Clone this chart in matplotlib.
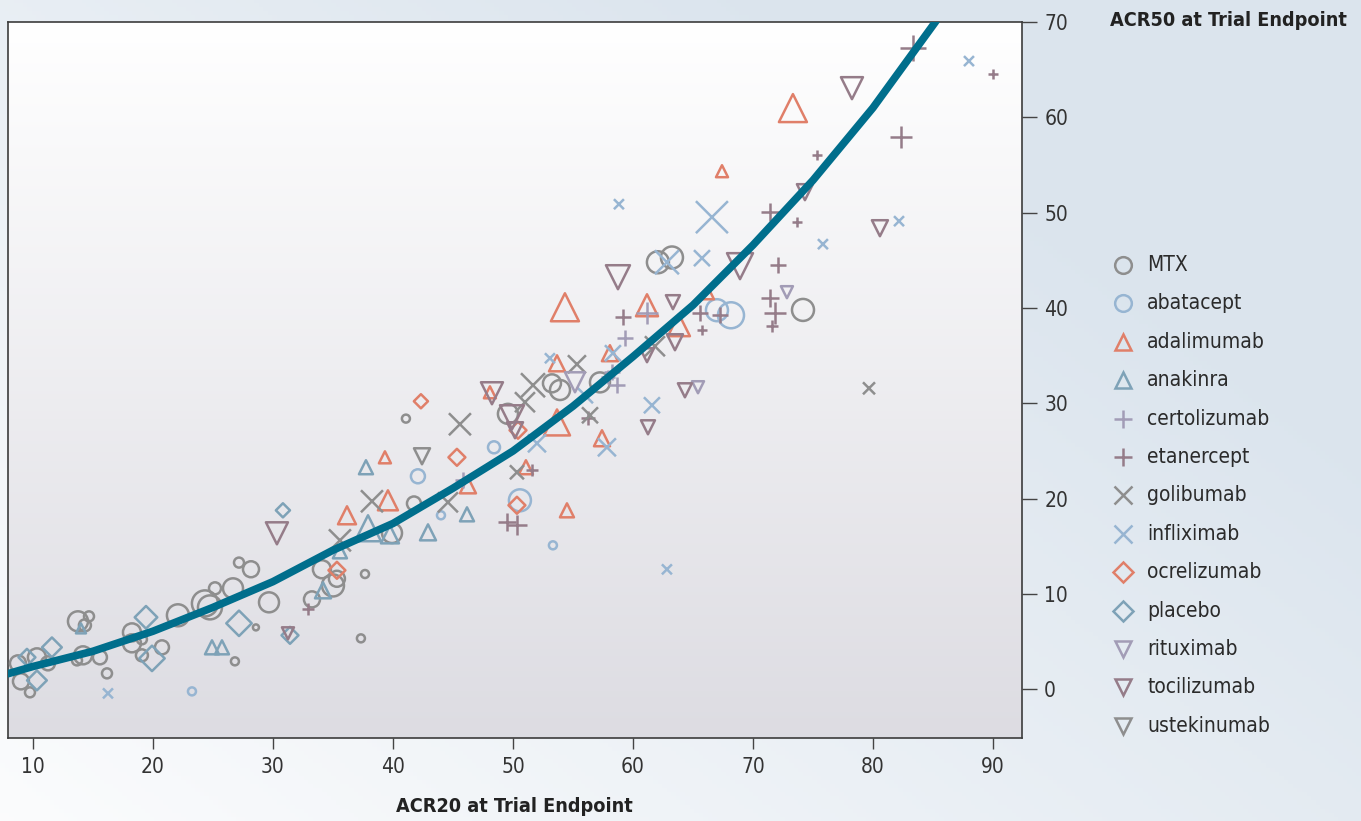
import numpy as np
import matplotlib
matplotlib.use("Agg")
import matplotlib.pyplot as plt
from matplotlib.lines import Line2D
from matplotlib import font_manager as fm

# ---------------- data (ACR20 %, ACR50 %, relative marker weight) ----------------
mtx_x = [8.75, 9.0, 9.75, 10.33, 11.25, 13.75, 14.67, 14.33, 14.17, 13.67, 15.58, 16.17, 18.25, 18.25,
         19.08, 20.75, 19.08, 22.08, 24.33, 24.75, 25.17, 26.67, 26.83, 27.17, 28.17, 29.67, 28.58,
         34.08, 35.0, 33.25, 35.33, 37.67, 37.33, 41.08, 41.75, 39.92, 49.58, 53.25, 53.92, 57.25,
         62.08, 63.25, 74.17]
mtx_y = [2.73, 0.84, -0.31, 3.36, 2.73, 7.14, 7.66, 6.72, 3.57, 3.04, 3.36, 1.68, 5.98, 4.83,
         3.57, 4.41, 5.25, 7.77, 9.02, 8.6, 10.6, 10.6, 2.94, 13.3, 12.6, 9.13, 6.5,
         12.6, 10.9, 9.44, 11.6, 12.1, 5.35, 28.4, 19.5, 16.4, 28.9, 32.1, 31.4, 32.2,
         44.8, 45.3, 39.8]
mtx_w = [8, 8, 5, 9, 7, 10, 5, 6, 9, 5, 7, 5, 9, 9,
         6, 7, 5, 11, 13, 12, 6, 10, 4, 5, 8, 10, 3,
         9, 11, 8, 8, 4, 4, 4, 7, 10, 10, 9, 10, 10,
         11, 11, 11]

abatacept_x = [23.25, 42.08, 44.0, 48.42, 50.58, 53.33, 67.0, 68.17]
abatacept_y = [-0.21, 22.35, 18.26, 25.39, 19.83, 15.11, 39.77, 39.24]
abatacept_w = [4, 7, 4, 6, 11, 4, 11, 13]

adalimumab_x = [73.33, 67.42, 54.33, 61.17, 63.83, 66.25, 58.08, 53.67, 53.67, 57.42, 54.5, 51.08,
                46.25, 48.08, 39.33, 39.58, 36.17]
adalimumab_y = [60.97, 54.35, 40.08, 40.29, 38.2, 41.55, 35.26, 34.2, 28.0, 26.34, 18.78, 23.3,
                21.4, 31.16, 24.34, 19.83, 18.26]
adalimumab_w = [14, 6, 14, 11, 11, 6, 8, 8, 13, 8, 7, 7, 8, 6, 6, 10, 9]

anakinra_x = [24.92, 25.75, 37.75, 37.92, 39.75, 42.92, 46.17, 35.58, 34.17, 14.0]
anakinra_y = [4.41, 4.41, 23.3, 16.9, 16.26, 16.47, 18.36, 14.48, 10.39, 6.4]
anakinra_w = [7, 7, 7, 13, 9, 8, 7, 7, 8, 5]

certolizumab_x = [45.83, 61.17, 59.33, 57.92, 58.25, 58.67]
certolizumab_y = [21.93, 39.45, 36.83, 32.74, 33.26, 31.9]
certolizumab_w = [8, 11, 8, 7, 8, 8]

etanercept_x = [83.33, 90.0, 75.33, 82.33, 71.42, 73.67, 72.08, 71.42, 71.83, 71.58, 65.58, 65.75,
                59.17, 67.25, 51.58, 49.5, 50.33, 32.92, 56.25]
etanercept_y = [67.26, 64.53, 56.03, 57.92, 50.05, 49.0, 44.49, 41.03, 39.45, 38.09, 39.45, 37.67,
                39.03, 39.24, 22.98, 17.52, 17.21, 8.39, 28.44]
etanercept_w = [13, 5, 5, 11, 9, 5, 8, 9, 11, 6, 8, 5, 8, 8, 6, 9, 10, 6, 7]

golibumab_x = [45.58, 38.25, 35.58, 44.58, 51.67, 51.0, 55.33, 56.42, 50.33, 79.67, 61.83]
golibumab_y = [27.81, 19.73, 15.63, 19.62, 31.9, 30.12, 34.1, 28.75, 22.77, 31.58, 35.99]
golibumab_w = [11, 11, 11, 10, 12, 10, 9, 8, 7, 6, 10]

infliximab_x = [88.0, 66.58, 58.83, 75.83, 82.17, 62.83, 65.75, 61.58, 62.83, 57.83, 16.25, 52.0,
                53.08, 58.33, 56.0]
infliximab_y = [65.9, 49.53, 50.89, 46.7, 49.11, 44.8, 45.23, 29.8, 12.59, 25.39, -0.42, 25.81,
                34.73, 35.26, 30.85]
infliximab_w = [5, 16, 5, 5, 5, 12, 8, 8, 5, 9, 5, 9, 5, 8, 8]

ocrelizumab_x = [42.33, 45.33, 50.33, 50.42, 35.33]
ocrelizumab_y = [30.22, 24.34, 19.31, 27.18, 12.49]
ocrelizumab_w = [5, 6, 6, 6, 6]

placebo_x = [30.83, 19.42, 27.17, 11.58, 10.33, 19.92, 9.5, 31.42]
placebo_y = [18.78, 7.56, 6.93, 4.41, 0.94, 3.25, 3.36, 5.67]
placebo_w = [5, 8, 9, 7, 7, 9, 6, 6]

rituximab_x = [55.17, 72.83, 65.42]
rituximab_y = [32.21, 41.66, 31.69]
rituximab_w = [10, 6, 6]

tocilizumab_x = [78.25, 58.75, 68.92, 80.58, 74.33, 63.33, 63.5, 64.33, 61.25, 30.33, 48.25, 49.92,
                 31.25, 50.17, 61.17]
tocilizumab_y = [63.06, 43.23, 44.39, 48.37, 52.15, 40.61, 36.41, 31.37, 27.49, 16.37, 31.06, 28.54,
                 5.88, 27.18, 35.05]
tocilizumab_w = [11, 12, 13, 8, 8, 7, 8, 7, 7, 11, 11, 12, 6, 8, 7]

ustekinumab_x = [42.42]
ustekinumab_y = [24.45]
ustekinumab_w = [8]

# fitted relationship
curve_x = [7.8, 10, 15, 20, 25, 30, 35, 40, 45, 50, 55, 60, 65, 70, 75, 80, 85.2, 86.5]
curve_y = [1.6, 2.4, 4.0, 6.1, 8.6, 11.3, 14.6, 17.4, 21.1, 25.0, 29.7, 34.9, 40.3, 46.6, 53.4, 61.0, 70.0, 72.5]

x_ticks = [10, 20, 30, 40, 50, 60, 70, 80, 90]
y_ticks = [0, 10, 20, 30, 40, 50, 60, 70]

# ---------------- styling ----------------
GRAY = "#8e8e8e"
LBLUE = "#97b5d2"
SALMON = "#e07f69"
STEEL = "#7ea2b7"
LAV = "#a29cb6"
MAUVE = "#957c89"
TEAL = "#006e8c"

series = [
    ("MTX", mtx_x, mtx_y, mtx_w, "o", GRAY),
    ("abatacept", abatacept_x, abatacept_y, abatacept_w, "o", LBLUE),
    ("adalimumab", adalimumab_x, adalimumab_y, adalimumab_w, "^", SALMON),
    ("anakinra", anakinra_x, anakinra_y, anakinra_w, "^", STEEL),
    ("certolizumab", certolizumab_x, certolizumab_y, certolizumab_w, "+", LAV),
    ("etanercept", etanercept_x, etanercept_y, etanercept_w, "+", MAUVE),
    ("golibumab", golibumab_x, golibumab_y, golibumab_w, "x", GRAY),
    ("infliximab", infliximab_x, infliximab_y, infliximab_w, "x", LBLUE),
    ("ocrelizumab", ocrelizumab_x, ocrelizumab_y, ocrelizumab_w, "D", SALMON),
    ("placebo", placebo_x, placebo_y, placebo_w, "D", STEEL),
    ("rituximab", rituximab_x, rituximab_y, rituximab_w, "v", LAV),
    ("tocilizumab", tocilizumab_x, tocilizumab_y, tocilizumab_w, "v", MAUVE),
    ("ustekinumab", ustekinumab_x, ustekinumab_y, ustekinumab_w, "v", GRAY),
]


def pick_narrow():
    """Find a condensed/narrow face if one is installed, else Roboto."""
    for fam in ("Liberation Sans Narrow", "Arial Narrow"):
        try:
            fm.findfont(fm.FontProperties(family=fam), fallback_to_default=False)
            return dict(family=fam), True
        except Exception:
            pass
    try:
        p = fm.findfont(fm.FontProperties(family="DejaVu Sans", stretch="condensed"),
                        fallback_to_default=False)
        if "ondensed" in p:
            return dict(family="DejaVu Sans", stretch="condensed"), True
    except Exception:
        pass
    return dict(family="Roboto"), False


NARROW, IS_NARROW = pick_narrow()
TICK_FS = 15 if IS_NARROW else 13.5
TITLE_FS = 14.2 if IS_NARROW else 13.5
LEG_FS = 15 if IS_NARROW else 14.5

W, H = 1361, 821
fig = plt.figure(figsize=(W / 100, H / 100), dpi=100)

# figure background gradient
bg = fig.add_axes([0, 0, 1, 1], zorder=-10)
bg.axis("off")
gy, gx = np.mgrid[0:1:200j, 0:1:300j]
t = np.clip(0.75 * gx + 0.6 * gy, 0, 1)[..., None]
c0 = np.array([0.985, 0.988, 0.992])
c1 = np.array([0.862, 0.898, 0.933])
bg.imshow(c0 * (1 - t) + c1 * t, extent=[0, 1, 0, 1], origin="lower", aspect="auto")
bg.set_xlim(0, 1)
bg.set_ylim(0, 1)

ax = fig.add_axes([8 / W, 1 - 738 / H, (1022 - 8) / W, (738 - 22) / H])
xlim = (7.92, 92.42)
ylim = (-5.1, 70.0)
vy = np.linspace(0, 1, 256)[:, None, None]
top = np.array([1.0, 1.0, 1.0])
bot = np.array([0.866, 0.863, 0.887])
ax.imshow(np.repeat(bot * (1 - vy) + top * vy, 2, axis=1), extent=[*xlim, *ylim],
          origin="lower", aspect="auto", zorder=0)
ax.set_xlim(*xlim)
ax.set_ylim(*ylim)


def msize(w):
    return (2 * np.asarray(w, float) / 1.389) ** 2


for name, xs, ys, ws, mk, col in series:
    if mk in ("+", "x"):
        ax.scatter(xs, ys, s=msize(ws), marker=mk, c=col, linewidths=1.8, zorder=3)
    else:
        ax.scatter(xs, ys, s=msize(ws), marker=mk, facecolors="none", edgecolors=col,
                   linewidths=1.8, zorder=3)

ax.plot(curve_x, curve_y, color=TEAL, lw=5.5, solid_capstyle="butt", zorder=5)

for sp in ax.spines.values():
    sp.set_color("#3c3c3c")
    sp.set_linewidth(1.2)

ax.set_xticks(x_ticks)
ax.set_yticks(y_ticks)
ax.yaxis.tick_right()
ax.tick_params(axis="x", direction="out", length=8, width=1, color="#444444",
               labelcolor="#333333", labelsize=TICK_FS, pad=6)
ax.tick_params(axis="y", direction="out", length=11, width=1, color="#444444",
               labelcolor="#333333", labelsize=TICK_FS, pad=5)
for lab in ax.get_xticklabels() + ax.get_yticklabels():
    lab.set(**NARROW)

fig.text(1347 / W, 1 - 21 / H, "ACR50 at Trial Endpoint", ha="right", va="center",
         fontsize=TITLE_FS, fontweight="bold", color="#222222", **NARROW)
fig.text(514 / W, 1 - 806 / H, "ACR20 at Trial Endpoint", ha="center", va="center",
         fontsize=TITLE_FS, fontweight="bold", color="#222222", **NARROW)

# legend
y0, dy = 265, 38.4
for i, (name, xs, ys, ws, mk, col) in enumerate(series):
    yy = 1 - (y0 + i * dy) / H
    ms = 12 if mk in ("o", "^", "v") else (10 if mk == "D" else 13)
    fig.add_artist(Line2D([1123 / W], [yy], transform=fig.transFigure, marker=mk,
                          markersize=ms, markerfacecolor="none", markeredgecolor=col,
                          markeredgewidth=1.8, linestyle="none"))
    fig.text(1147 / W, yy, name, ha="left", va="center", fontsize=LEG_FS,
             color="#2b2b2b", **NARROW)

fig.savefig("out.png", dpi=100)
